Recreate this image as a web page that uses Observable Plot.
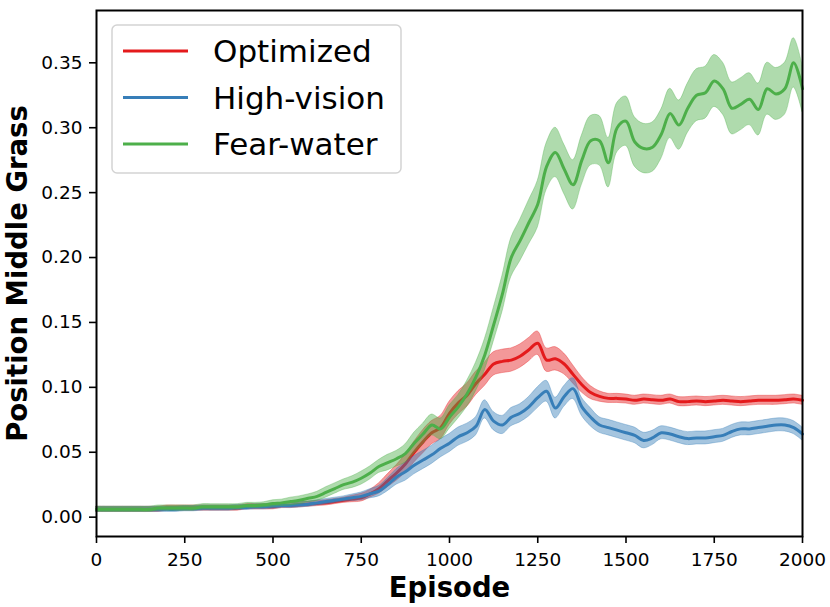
<!DOCTYPE html>
<html><head><meta charset="utf-8">
<script src="https://cdn.jsdelivr.net/npm/d3@7"></script>
<script src="https://cdn.jsdelivr.net/npm/@observablehq/plot@0.6"></script>
<style>
body{margin:0;background:#fff;}
#wrap{position:relative;width:830px;height:607px;}
#legend{position:absolute;left:0;top:0;pointer-events:none;}
</style>
</head><body>
<div id="wrap"></div>
<script>
const episodes = d3.range(0, 2001, 25);
const xTicks = [0,250,500,750,1000,1250,1500,1750,2000];
const yTicks = [0,0.05,0.10,0.15,0.20,0.25,0.30,0.35];
const names = ["Optimized","High-vision","Fear-water"];
const colors = ["#e41a1c","#377eb8","#4daf4a"];

const optimizedMean = [0.006,0.006,0.006,0.006,0.006,0.006,0.006,0.006,0.007,0.007,0.007,0.007,0.007,0.007,0.007,0.007,0.007,0.008,0.008,0.008,
0.008,0.009,0.009,0.0095,0.010,0.0105,0.011,0.012,0.013,0.014,0.015,0.018,0.022,0.028,0.034,0.041,0.050,0.058,0.065,0.069,
0.080,0.088,0.094,0.103,0.110,0.118,0.120,0.121,0.124,0.129,0.134,0.121,0.122,0.118,0.110,0.102,0.096,0.093,0.0915,0.0915,
0.091,0.090,0.091,0.0905,0.090,0.091,0.089,0.089,0.0895,0.089,0.0895,0.090,0.0895,0.089,0.0895,0.090,0.090,0.090,0.0905,0.091,0.090];
const optimizedBand = [0.002,0.002,0.002,0.002,0.002,0.002,0.002,0.002,0.002,0.002,0.002,0.002,0.002,0.002,0.002,0.002,0.002,0.002,0.002,0.002,
0.002,0.002,0.002,0.002,0.002,0.002,0.002,0.002,0.002,0.0025,0.003,0.003,0.004,0.005,0.006,0.007,0.008,0.009,0.009,0.009,
0.009,0.009,0.009,0.009,0.009,0.009,0.009,0.009,0.009,0.009,0.009,0.009,0.009,0.008,0.007,0.006,0.005,0.004,0.0035,0.0035,
0.0035,0.0035,0.0035,0.0035,0.0035,0.0035,0.0035,0.0035,0.0035,0.0035,0.0035,0.0035,0.0035,0.0035,0.0035,0.0035,0.0035,0.0035,0.0035,0.0035,0.0035];

const highVisionMean = [0.006,0.006,0.006,0.006,0.006,0.006,0.006,0.006,0.006,0.006,0.0065,0.0065,0.007,0.007,0.007,0.007,0.0075,0.0075,0.008,0.008,
0.0085,0.009,0.009,0.0095,0.010,0.011,0.012,0.013,0.014,0.015,0.016,0.018,0.020,0.025,0.031,0.035,0.040,0.044,0.048,0.053,
0.057,0.062,0.065,0.070,0.083,0.074,0.071,0.077,0.080,0.085,0.092,0.097,0.084,0.093,0.099,0.085,0.077,0.071,0.069,0.067,
0.065,0.063,0.059,0.061,0.065,0.064,0.062,0.0605,0.061,0.061,0.062,0.063,0.066,0.068,0.068,0.069,0.070,0.071,0.071,0.069,0.064];
const highVisionBand = [0.002,0.002,0.002,0.002,0.002,0.002,0.002,0.002,0.002,0.002,0.002,0.002,0.002,0.002,0.002,0.002,0.002,0.002,0.002,0.002,
0.002,0.002,0.002,0.002,0.002,0.002,0.002,0.002,0.002,0.0025,0.003,0.0035,0.004,0.005,0.006,0.007,0.007,0.007,0.007,0.007,
0.007,0.007,0.007,0.007,0.007,0.007,0.007,0.007,0.007,0.0075,0.008,0.008,0.008,0.008,0.008,0.007,0.007,0.006,0.006,0.006,
0.006,0.006,0.006,0.0055,0.005,0.005,0.005,0.005,0.005,0.005,0.005,0.005,0.005,0.005,0.005,0.005,0.005,0.005,0.005,0.005,0.005];

const fearWaterMean = [0.006,0.006,0.006,0.006,0.006,0.006,0.006,0.007,0.007,0.007,0.007,0.007,0.008,0.008,0.008,0.008,0.008,0.009,0.009,0.0095,
0.0105,0.011,0.012,0.013,0.0145,0.016,0.019,0.022,0.025,0.027,0.030,0.034,0.039,0.042,0.045,0.049,0.057,0.064,0.071,0.068,
0.077,0.085,0.095,0.108,0.125,0.148,0.172,0.200,0.213,0.227,0.241,0.270,0.281,0.268,0.256,0.275,0.290,0.290,0.273,0.300,
0.305,0.289,0.284,0.285,0.295,0.311,0.302,0.315,0.325,0.327,0.336,0.330,0.315,0.318,0.322,0.314,0.330,0.326,0.330,0.350,0.330];
const fearWaterBand = [0.002,0.002,0.002,0.002,0.002,0.002,0.002,0.002,0.002,0.002,0.002,0.002,0.002,0.002,0.002,0.002,0.002,0.002,0.002,0.002,
0.0025,0.0025,0.003,0.003,0.003,0.0035,0.004,0.004,0.004,0.0045,0.005,0.005,0.005,0.006,0.006,0.007,0.008,0.008,0.008,0.008,
0.009,0.009,0.010,0.011,0.012,0.013,0.014,0.015,0.016,0.017,0.018,0.018,0.019,0.019,0.019,0.019,0.019,0.019,0.019,0.019,
0.019,0.019,0.019,0.019,0.019,0.019,0.019,0.019,0.020,0.020,0.020,0.020,0.020,0.020,0.020,0.020,0.020,0.020,0.020,0.019,0.018];

const seriesList = [
  {name: names[0], color: colors[0], mean: optimizedMean, band: optimizedBand},
  {name: names[1], color: colors[1], mean: highVisionMean, band: highVisionBand},
  {name: names[2], color: colors[2], mean: fearWaterMean, band: fearWaterBand}
];

const marks = [];
for (const s of seriesList) {
  const data = episodes.map((e, i) => ({episode: e, mean: s.mean[i], lo: s.mean[i] - s.band[i], hi: s.mean[i] + s.band[i]}));
  marks.push(Plot.areaY(data, {x: "episode", y1: "lo", y2: "hi", fill: s.color, fillOpacity: 0.45, stroke: s.color, strokeOpacity: 0.35, strokeWidth: 1, curve: "catmull-rom"}));
  marks.push(Plot.lineY(data, {x: "episode", y: "mean", stroke: s.color, strokeWidth: 3, curve: "catmull-rom"}));
}

const chart = Plot.plot({
  width: 830, height: 607,
  marginLeft: 96, marginRight: 28, marginTop: 10, marginBottom: 71,
  style: {fontFamily: "DejaVu Sans", fontSize: "18.5px", background: "white", color: "black"},
  x: {domain: [0, 2000]},
  y: {domain: [-0.0149, 0.3903]},
  marks: [
    ...marks,
    Plot.axisX({ticks: xTicks, tickFormat: d3.format("d"), tickSize: 7, tickPadding: 9, strokeWidth: 1.6, label: null, fontSize: 18.5}),
    Plot.axisY({ticks: yTicks, tickFormat: d3.format(".2f"), tickSize: 7, tickPadding: 7, strokeWidth: 1.6, label: null, fontSize: 18.5}),
    Plot.frame({stroke: "black", strokeWidth: 2}),
    Plot.text(["Episode"], {frameAnchor: "bottom", lineAnchor: "bottom", textAnchor: "middle", dy: 60, fontSize: 27.5, fontWeight: "bold", fill: "black"}),
    Plot.text(["Position Middle Grass"], {frameAnchor: "left", lineAnchor: "bottom", textAnchor: "middle", rotate: -90, dx: -70, fontSize: 27.5, fontWeight: "bold", fill: "black"})
  ]
});
const wrap = document.getElementById("wrap");
wrap.appendChild(chart);

// legend overlay
const ns = "http://www.w3.org/2000/svg";
const lg = document.createElementNS(ns, "svg");
lg.setAttribute("id", "legend");
lg.setAttribute("width", 830); lg.setAttribute("height", 607);
const box = document.createElementNS(ns, "rect");
box.setAttribute("x", 112); box.setAttribute("y", 25); box.setAttribute("width", 289); box.setAttribute("height", 148);
box.setAttribute("rx", 5); box.setAttribute("fill", "white"); box.setAttribute("fill-opacity", 0.8);
box.setAttribute("stroke", "#d3d3d3"); box.setAttribute("stroke-width", 1.5);
lg.appendChild(box);
seriesList.forEach((s, k) => {
  const yy = 51 + k * 46.5;
  const ln = document.createElementNS(ns, "line");
  ln.setAttribute("x1", 123); ln.setAttribute("x2", 188); ln.setAttribute("y1", yy); ln.setAttribute("y2", yy);
  ln.setAttribute("stroke", s.color); ln.setAttribute("stroke-width", 3);
  lg.appendChild(ln);
  const tx = document.createElementNS(ns, "text");
  tx.setAttribute("x", 213); tx.setAttribute("y", yy + 11);
  tx.setAttribute("font-family", "DejaVu Sans"); tx.setAttribute("font-size", 31);
  tx.setAttribute("fill", "black");
  tx.textContent = s.name;
  lg.appendChild(tx);
});
wrap.appendChild(lg);
</script>
</body></html>
